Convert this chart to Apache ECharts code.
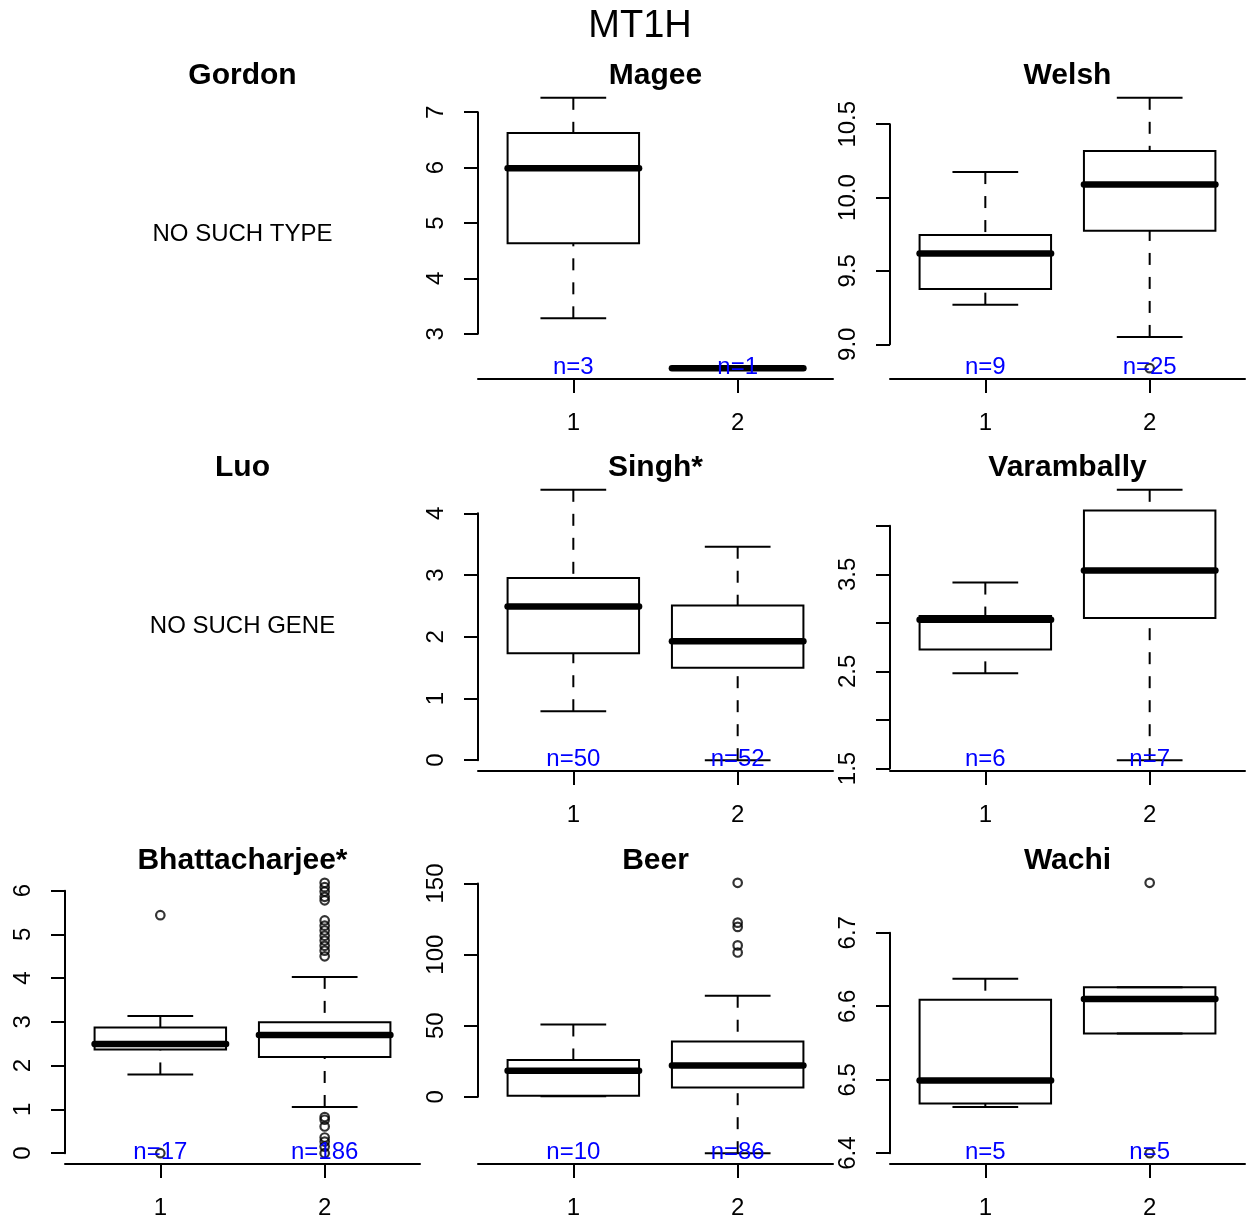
<!DOCTYPE html>
<html>
<head>
<meta charset="utf-8">
<title>MT1H</title>
<script src="https://cdn.jsdelivr.net/npm/echarts@6/dist/echarts.min.js"></script>
<style>
html, body { margin: 0; padding: 0; background: #fff; }
#chart { width: 1250px; height: 1223px; }
</style>
</head>
<body>
<div id="chart"></div>
<script>
// box stats per group: [x, lower whisker, lower hinge, median, upper hinge, upper whisker]
const mageeBoxes = [[1, 3.28, 4.635, 5.99, 6.625, 7.26], [2, 2.38, 2.38, 2.38, 2.38, 2.38]]
const mageeOutliers = []
const mageeN = [3, 1]
const mageeTicks = [3, 4, 5, 6, 7]
const mageeTickLabels = ['3', '4', '5', '6', '7']

const welshBoxes = [[1, 9.27, 9.376, 9.619, 9.745, 10.174], [2, 9.05, 9.773, 10.089, 10.317, 10.68]]
const welshOutliers = [[2, 8.837]]
const welshN = [9, 25]
const welshTicks = [9.0, 9.5, 10.0, 10.5]
const welshTickLabels = ['9.0', '9.5', '10.0', '10.5']

const singhBoxes = [[1, 0.793, 1.732, 2.49, 2.953, 4.38], [2, 0.0, 1.498, 1.928, 2.507, 3.458]]
const singhOutliers = []
const singhN = [50, 52]
const singhTicks = [0, 1, 2, 3, 4]
const singhTickLabels = ['0', '1', '2', '3', '4']

const varamBoxes = [[1, 2.48, 2.725, 3.032, 3.07, 3.415], [2, 1.586, 3.05, 3.539, 4.157, 4.37]]
const varamOutliers = []
const varamN = [6, 7]
const varamTicks = [1.5, 2.0, 2.5, 3.0, 3.5, 4.0]
const varamTickLabels = ['1.5', '', '2.5', '', '3.5', '']

const bhattBoxes = [[1, 1.80, 2.37, 2.493, 2.87, 3.136], [2, 1.056, 2.20, 2.70, 2.99, 4.03]]
const bhattOutliers = [
  [1, 5.44], [1, 0.0],
  [2, 6.18], [2, 6.08], [2, 5.98], [2, 5.86], [2, 5.78],
  [2, 5.32], [2, 5.20], [2, 5.09], [2, 4.97], [2, 4.86], [2, 4.74], [2, 4.63], [2, 4.50],
  [2, 0.826], [2, 0.764], [2, 0.61], [2, 0.358], [2, 0.266], [2, 0.15], [2, 0.0]
]
const bhattN = [17, 186]
const bhattTicks = [0, 1, 2, 3, 4, 5, 6]
const bhattTickLabels = ['0', '1', '2', '3', '4', '5', '6']

const beerBoxes = [[1, 0.4, 0.7, 18.4, 25.9, 50.9], [2, -39.6, 6.6, 22.1, 38.9, 71.1]]
const beerOutliers = [[2, 150.5], [2, 122.5], [2, 119.5], [2, 106.5], [2, 101.5]]
const beerN = [10, 86]
const beerTicks = [0, 50, 100, 150]
const beerTickLabels = ['0', '50', '100', '150']

const wachiBoxes = [[1, 6.463, 6.4676, 6.499, 6.609, 6.6375], [2, 6.563, 6.563, 6.610, 6.626, 6.626]]
const wachiOutliers = [[2, 6.768], [2, 6.40]]
const wachiN = [5, 5]
const wachiTicks = [6.4, 6.5, 6.6, 6.7]
const wachiTickLabels = ['6.4', '6.5', '6.6', '6.7']

const panels = [
  { title: 'Magee', col: 1, row: 0, boxes: mageeBoxes, outliers: mageeOutliers, n: mageeN, ticks: mageeTicks, labels: mageeTickLabels },
  { title: 'Welsh', col: 2, row: 0, boxes: welshBoxes, outliers: welshOutliers, n: welshN, ticks: welshTicks, labels: welshTickLabels },
  { title: 'Singh*', col: 1, row: 1, boxes: singhBoxes, outliers: singhOutliers, n: singhN, ticks: singhTicks, labels: singhTickLabels },
  { title: 'Varambally', col: 2, row: 1, boxes: varamBoxes, outliers: varamOutliers, n: varamN, ticks: varamTicks, labels: varamTickLabels },
  { title: 'Bhattacharjee*', col: 0, row: 2, boxes: bhattBoxes, outliers: bhattOutliers, n: bhattN, ticks: bhattTicks, labels: bhattTickLabels },
  { title: 'Beer', col: 1, row: 2, boxes: beerBoxes, outliers: beerOutliers, n: beerN, ticks: beerTicks, labels: beerTickLabels },
  { title: 'Wachi', col: 2, row: 2, boxes: wachiBoxes, outliers: wachiOutliers, n: wachiN, ticks: wachiTicks, labels: wachiTickLabels }
]
const emptyPanels = [
  { title: 'Gordon', col: 0, row: 0, note: 'NO SUCH TYPE' },
  { title: 'Luo', col: 0, row: 1, note: 'NO SUCH GENE' }
]

// layout (px)
const colLeft = [65, 478, 890]
const rowTop = [87, 479, 872]
const plotW = 355
const plotH = 292
const titleOffset = 11 // title centre above plot top
const FONT = '"Liberation Sans", Arial, Helvetica, sans-serif'
const lineStyle = { color: '#000', width: 2 }

const grids = []
const xAxes = []
const yAxes = []
const series = []
const graphics = []

function text(x, y, str, font, fill) {
  return {
    type: 'text', x: x, y: y, silent: true,
    style: { text: str, font: font, fill: fill || '#000', align: 'center', verticalAlign: 'middle', textAlign: 'center', textVerticalAlign: 'middle' }
  }
}

graphics.push(text(640, 27, 'MT1H', '38px ' + FONT))

emptyPanels.forEach(p => {
  const cx = colLeft[p.col] + plotW / 2
  graphics.push(text(cx, rowTop[p.row] - titleOffset, p.title, 'bold 30px ' + FONT))
  graphics.push(text(cx, rowTop[p.row] + plotH / 2 + 1, p.note, '24px ' + FONT))
})

panels.forEach(p => {
  const left = colLeft[p.col]
  const top = rowTop[p.row]
  const vals = p.boxes.flatMap(b => b.slice(1)).concat(p.outliers.map(o => o[1]))
  const lo = Math.min(...vals)
  const hi = Math.max(...vals)
  const pad = (hi - lo) * 0.04
  const yMin = lo - pad
  const yMax = hi + pad

  graphics.push(text(left + plotW / 2, top - titleOffset, p.title, 'bold 30px ' + FONT))

  // plotting grid
  const gi = grids.length
  grids.push({ left: left, top: top, width: plotW, height: plotH })
  xAxes.push({
    gridIndex: gi, type: 'value', min: 0.42, max: 2.58,
    axisLine: { show: true, onZero: false, lineStyle: lineStyle },
    axisTick: { show: true, customValues: [1, 2], length: 14, lineStyle: lineStyle },
    axisLabel: { show: true, customValues: [1, 2], margin: 32, fontSize: 24, color: '#000', fontFamily: FONT },
    splitLine: { show: false }
  })
  yAxes.push({ gridIndex: gi, type: 'value', min: yMin, max: yMax, show: false })

  // y axis runs only from first to last tick, like R
  const t0 = p.ticks[0]
  const t1 = p.ticks[p.ticks.length - 1]
  const scale = plotH / (yMax - yMin)
  const ti = grids.length
  grids.push({ left: left, top: top + (yMax - t1) * scale, width: plotW, height: (t1 - t0) * scale })
  xAxes.push({ gridIndex: ti, type: 'value', min: 0, max: 1, show: false })
  yAxes.push({
    gridIndex: ti, type: 'value', min: t0, max: t1,
    interval: +(p.ticks[1] - p.ticks[0]).toFixed(6),
    axisLine: { show: true, onZero: false, lineStyle: lineStyle },
    axisTick: { show: true, length: 14, lineStyle: lineStyle },
    axisLabel: {
      rotate: 90, margin: 30, fontSize: 24, color: '#000', fontFamily: FONT,
      showMinLabel: true, showMaxLabel: true,
      formatter: v => {
        const i = p.ticks.findIndex(t => Math.abs(t - v) < 1e-6)
        return i < 0 ? '' : p.labels[i]
      }
    },
    splitLine: { show: false }
  })

  series.push({
    type: 'custom',
    xAxisIndex: gi,
    yAxisIndex: gi,
    data: p.boxes,
    encode: { x: 0, y: [1, 2, 3, 4, 5] },
    silent: true,
    renderItem: (params, api) => {
      const x = api.value(0)
      const wLo = api.coord([x, api.value(1)])
      const hLo = api.coord([x - 0.4, api.value(2)])
      const med0 = api.coord([x - 0.4, api.value(3)])
      const med1 = api.coord([x + 0.4, api.value(3)])
      const hHi = api.coord([x + 0.4, api.value(4)])
      const wHi = api.coord([x, api.value(5)])
      const s0 = api.coord([x - 0.2, 0])[0]
      const s1 = api.coord([x + 0.2, 0])[0]
      const solid = { stroke: '#000', lineWidth: 2, fill: null }
      const dashed = { stroke: '#000', lineWidth: 2, lineDash: [12, 12], fill: null }
      return {
        type: 'group',
        children: [
          { type: 'line', shape: { x1: wHi[0], y1: wHi[1], x2: wHi[0], y2: hHi[1] }, style: dashed },
          { type: 'line', shape: { x1: wLo[0], y1: wLo[1], x2: wLo[0], y2: hLo[1] }, style: dashed },
          { type: 'line', shape: { x1: s0, y1: wHi[1], x2: s1, y2: wHi[1] }, style: solid },
          { type: 'line', shape: { x1: s0, y1: wLo[1], x2: s1, y2: wLo[1] }, style: solid },
          { type: 'rect', shape: { x: hLo[0], y: hHi[1], width: hHi[0] - hLo[0], height: hLo[1] - hHi[1] }, style: solid },
          { type: 'line', shape: { x1: med0[0], y1: med0[1], x2: med1[0], y2: med1[1] }, style: { stroke: '#000', lineWidth: 6.5, lineCap: 'round' } }
        ]
      }
    }
  })

  series.push({
    type: 'scatter',
    xAxisIndex: gi,
    yAxisIndex: gi,
    data: p.outliers,
    symbol: 'circle',
    symbolSize: 8.5,
    silent: true,
    itemStyle: { color: 'rgba(0,0,0,0)', borderColor: '#000', borderWidth: 2.2 }
  })

  series.push({
    type: 'custom',
    xAxisIndex: gi,
    yAxisIndex: gi,
    data: p.boxes.map((b, i) => [b[0], yMin, p.n[i]]),
    encode: { x: 0, y: 1 },
    silent: true,
    z: 5,
    renderItem: (params, api) => {
      const pt = api.coord([api.value(0), api.value(1)])
      return {
        type: 'text',
        style: {
          text: 'n=' + api.value(2), x: pt[0], y: pt[1] - 12,
          font: '24px ' + FONT, fill: '#0000ff',
          align: 'center', verticalAlign: 'middle', textAlign: 'center', textVerticalAlign: 'middle'
        }
      }
    }
  })
})

const chart = echarts.init(document.getElementById('chart'))
chart.setOption({
  animation: false,
  backgroundColor: '#fff',
  grid: grids,
  xAxis: xAxes,
  yAxis: yAxes,
  series: series,
  graphic: { elements: graphics }
})
</script>
</body>
</html>
